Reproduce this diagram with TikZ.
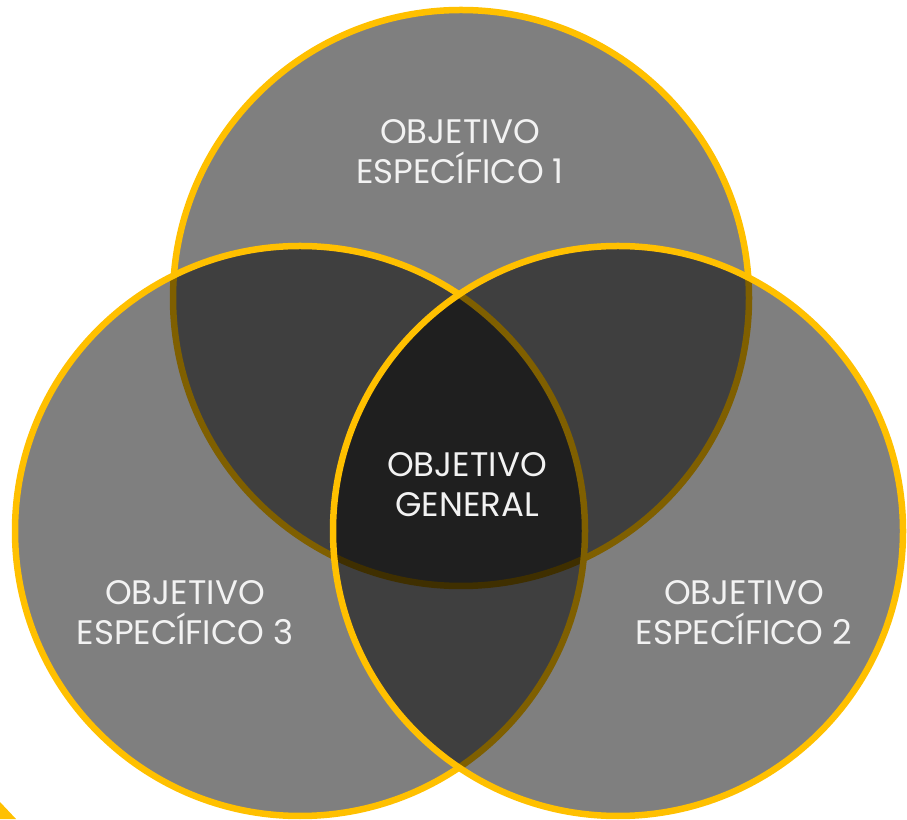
\documentclass[tikz,border=0pt]{standalone}
\usepackage{fontspec}
\setmainfont{Poppins}
\definecolor{gold}{HTML}{FFC000}
\definecolor{txt}{HTML}{F2F2F2}
\tikzset{
  venn/.style={fill=black, fill opacity=0.5},
  ring/.style={draw=gold, line width=6.5pt},
  lbl/.style={text=txt, align=center, font=\fontsize{34}{40}\selectfont, inner sep=0pt}
}
\begin{document}
\begin{tikzpicture}[x=1pt,y=1pt]
\useasboundingbox (0,0) rectangle (907,819);
% corner fragment
\fill[gold] (0,17) -- (16,0) -- (0,0) -- cycle;
\coordinate (ct) at (461,521);
\coordinate (cl) at (300,288);
\coordinate (cr) at (618,288);
\fill[venn] (ct) circle[radius=288];
\draw[ring] (ct) circle[radius=288];
\fill[venn] (cl) circle[radius=285];
\draw[ring] (cl) circle[radius=285];
\fill[venn] (cr) circle[radius=285];
\draw[ring] (cr) circle[radius=285];
\node[lbl] (t1) at (460,667) {OBJETIVO\\ESPECÍFICO 1};
\node[lbl] (t0) at (467,334) {OBJETIVO\\GENERAL};
\node[lbl] (t3) at (185,206) {OBJETIVO\\ESPECÍFICO 3};
\node[lbl] (t2) at (744,206) {OBJETIVO\\ESPECÍFICO 2};
\end{tikzpicture}
\end{document}
